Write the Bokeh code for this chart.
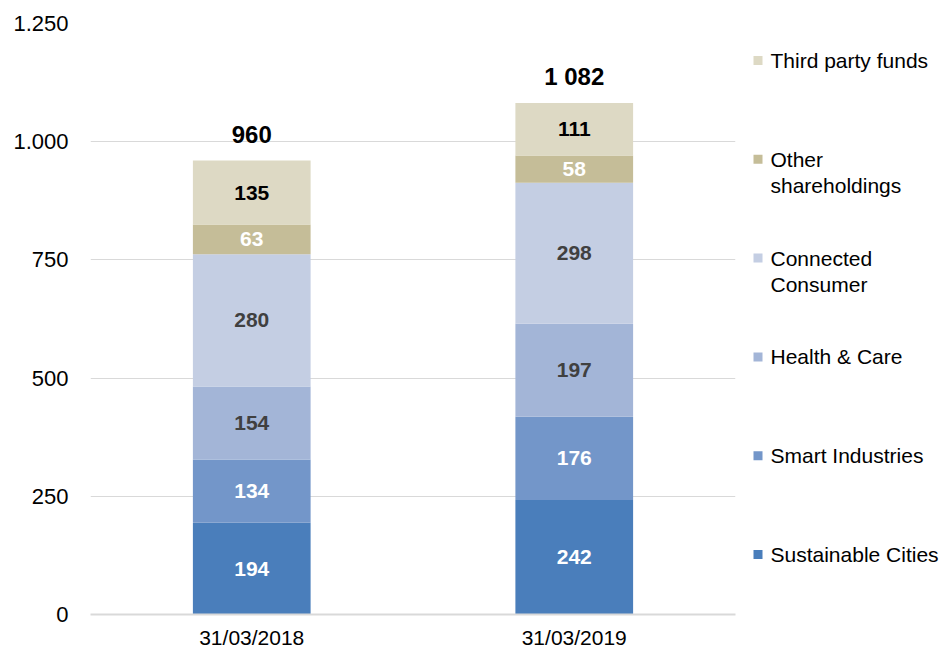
from bokeh.plotting import figure
from bokeh.layouts import row
from bokeh.models import ColumnDataSource, FixedTicker, Range1d, FactorRange
from bokeh.core.properties import value
from bokeh.embed import file_html
from bokeh.resources import INLINE

dates = ["31/03/2018", "31/03/2019"]
series = ["Sustainable Cities", "Smart Industries", "Health & Care",
          "Connected Consumer", "Other shareholdings", "Third party funds"]
sustainable = [194, 242]
smart = [134, 176]
health = [154, 197]
connected = [280, 298]
other = [63, 58]
third = [135, 111]
totals_text = ["960", "1 082"]
colors = ["#4a7ebb", "#7396c9", "#a3b5d7", "#c4cee3", "#c5bd98", "#ddd9c4"]
label_colors = ["#ffffff", "#ffffff", "#404040", "#404040", "#ffffff", "#000000"]
legend_lines = {"Other shareholdings": ["Other", "shareholdings"],
                "Connected Consumer": ["Connected", "Consumer"]}
y_ticks = [0, 250, 500, 750, 1000, 1250]
y_tick_labels = ["0", "250", "500", "750", "1.000", "1.250"]

FONT = "Liberation Sans"
values_by_series = [sustainable, smart, health, connected, other, third]

data = {"date": dates}
for name, vals in zip(series, values_by_series):
    data[name] = vals
src = ColumnDataSource(data)

p = figure(x_range=FactorRange(*dates, range_padding=0), y_range=Range1d(0, 1250),
           width=736, height=653, output_backend="svg", toolbar_location=None,
           min_border_left=90, min_border_right=1, min_border_top=23, min_border_bottom=39)
p.vbar_stack(series, x="date", width=0.365, color=colors, source=src, line_width=0)

# segment labels
lx, ly, lt, lc = [], [], [], []
for j, d in enumerate(dates):
    base = 0
    for i, vals in enumerate(values_by_series):
        v = vals[j]
        lx.append(d)
        ly.append(base + v / 2)
        lt.append(str(v))
        lc.append(label_colors[i])
        base += v
p.text(x=lx, y=ly, text=lt, text_color=lc, text_align="center", text_baseline="middle",
       text_font=value(FONT), text_font_size="21px", text_font_style="bold")

totals = [sum(vals[j] for vals in values_by_series) for j in range(len(dates))]
p.text(x=dates, y=totals, text=totals_text, text_color="#000000", text_align="center",
       text_baseline="middle", y_offset=-26, text_font=value(FONT),
       text_font_size="24px", text_font_style="bold")

p.outline_line_color = None
p.xgrid.grid_line_color = None
p.ygrid.grid_line_color = "#d9d9d9"
p.ygrid.grid_line_width = 1
p.yaxis.ticker = FixedTicker(ticks=y_ticks)
p.yaxis.major_label_overrides = {t: l for t, l in zip(y_ticks, y_tick_labels)}
for ax in (p.xaxis, p.yaxis):
    ax.major_tick_line_color = None
    ax.minor_tick_line_color = None
    ax.major_tick_out = 0
    ax.major_tick_in = 0
    ax.minor_tick_out = 0
    ax.minor_tick_in = 0
    ax.major_label_text_font = FONT
    ax.major_label_text_color = "#000000"
p.yaxis.axis_line_color = None
p.yaxis.major_label_text_font_size = "22px"
p.yaxis.major_label_standoff = 22
p.xaxis.axis_line_color = "#d9d9d9"
p.xaxis.axis_line_width = 2
p.xaxis.major_label_text_font_size = "21px"
p.xaxis.major_label_standoff = 11

# legend panel (frame spans page rows 23..614, so y values are page pixels)
lg = figure(width=206, height=653, x_range=Range1d(0, 206), y_range=Range1d(614, 23),
            output_backend="svg", toolbar_location=None, min_border=0,
            min_border_top=23, min_border_bottom=39)
lg.axis.visible = False
lg.grid.grid_line_color = None
lg.outline_line_color = None
order = list(range(len(series)))[::-1]
sq_x, sq_y, sq_c, tx, ty, tt = [], [], [], [], [], []
for k, i in enumerate(order):
    yy = 60 + k * 98.8
    sq_x.append(21.5)
    sq_y.append(yy)
    sq_c.append(colors[i])
    lines = legend_lines.get(series[i], [series[i]])
    for n, line in enumerate(lines):
        tx.append(34)
        ty.append(yy + n * 26)
        tt.append(line)
lg.scatter(x=sq_x, y=sq_y, marker="square", size=9, color=sq_c, line_width=0)
lg.text(x=tx, y=ty, text=tt, text_color="#000000", text_align="left", text_baseline="middle",
        text_font=value(FONT), text_font_size="21px")

layout = row(p, lg)
open("out.html", "w").write(file_html(layout, INLINE))
